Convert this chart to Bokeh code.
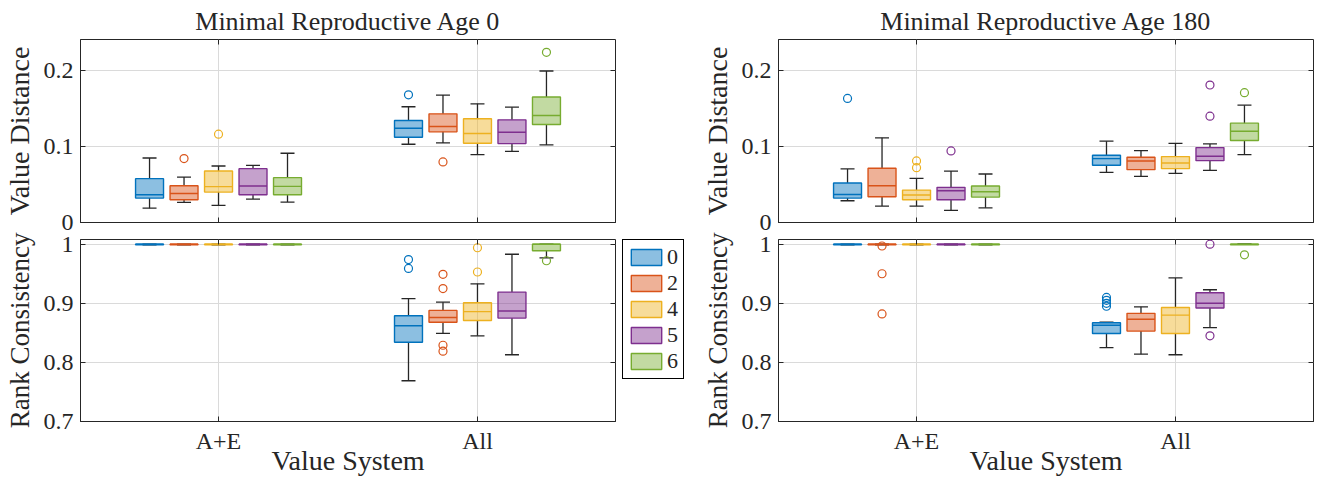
from bokeh.plotting import figure
from bokeh.layouts import row, column
from bokeh.models import Range1d, FixedTicker, LinearAxis, Legend, LegendItem, ColumnDataSource
from bokeh.embed import file_html
from bokeh.resources import INLINE

CATEGORIES = ["A+E", "All"]
GROUPS = ["0", "2", "4", "5", "6"]
COLORS = ["#0072BD", "#D95319", "#EDB120", "#7E2F8E", "#77AC30"]
TITLES = ["Minimal Reproductive Age 0", "Minimal Reproductive Age 180"]
YLABELS = ["Value Distance", "Rank Consistency"]
XLABEL = "Value System"
VD_TICKS = [0, 0.1, 0.2]
RC_TICKS = [0.7, 0.8, 0.9, 1.0]

# ---- Age 0, Value Distance: [A+E groups], [All groups]
VD0_LO = [[0.0188, 0.0263, 0.0224, 0.0307, 0.0268], [0.1026, 0.1044, 0.0890, 0.0934, 0.1018]]
VD0_Q1 = [[0.0320, 0.0298, 0.0399, 0.0364, 0.0364], [0.1118, 0.1189, 0.1039, 0.1035, 0.1285]]
VD0_MED = [[0.0364, 0.0381, 0.0470, 0.0478, 0.0474], [0.1237, 0.1259, 0.1167, 0.1184, 0.1404]]
VD0_Q3 = [[0.0575, 0.0482, 0.0675, 0.0706, 0.0588], [0.1338, 0.1425, 0.1360, 0.1346, 0.1645]]
VD0_HI = [[0.0846, 0.0596, 0.0741, 0.0750, 0.0908], [0.1518, 0.1671, 0.1557, 0.1513, 0.1987]]
VD0_OUT = [(0, 1, 0.0838), (0, 2, 0.1158), (1, 0, 0.1675), (1, 1, 0.0794), (1, 4, 0.2232)]

# ---- Age 0, Rank Consistency
RC0_LO = [[0.999, 0.999, 0.999, 0.999, 0.999], [0.769, 0.849, 0.845, 0.813, 0.977]]
RC0_Q1 = [[0.999, 0.999, 0.999, 0.999, 0.999], [0.834, 0.868, 0.871, 0.875, 0.989]]
RC0_MED = [[1.0, 1.0, 1.0, 1.0, 1.0], [0.862, 0.876, 0.886, 0.887, 1.0]]
RC0_Q3 = [[1.0, 1.0, 1.0, 1.0, 1.0], [0.879, 0.888, 0.901, 0.919, 1.0]]
RC0_HI = [[1.0, 1.0, 1.0, 1.0, 1.0], [0.908, 0.902, 0.933, 0.983, 1.0]]
RC0_OUT = [(1, 0, 0.974), (1, 0, 0.959), (1, 1, 0.949), (1, 1, 0.925), (1, 1, 0.829),
           (1, 1, 0.819), (1, 2, 0.994), (1, 2, 0.953), (1, 4, 0.972)]

# ---- Age 180, Value Distance
VD180_LO = [[0.0285, 0.0215, 0.0215, 0.0158, 0.0193], [0.0658, 0.0605, 0.0645, 0.0684, 0.0890]]
VD180_Q1 = [[0.0320, 0.0338, 0.0298, 0.0298, 0.0333], [0.0750, 0.0693, 0.0706, 0.0811, 0.1075]]
VD180_MED = [[0.0368, 0.0482, 0.0360, 0.0417, 0.0404], [0.0838, 0.0807, 0.0781, 0.0868, 0.1197]]
VD180_Q3 = [[0.0518, 0.0711, 0.0425, 0.0461, 0.0478], [0.0882, 0.0855, 0.0864, 0.0982, 0.1303]]
VD180_HI = [[0.0702, 0.1110, 0.0579, 0.0675, 0.0636], [0.1066, 0.0943, 0.1039, 0.1031, 0.1539]]
VD180_OUT = [(0, 0, 0.1627), (0, 2, 0.0807), (0, 2, 0.0719), (0, 3, 0.0939),
             (1, 3, 0.1803), (1, 3, 0.1395), (1, 4, 0.1702)]

# ---- Age 180, Rank Consistency
RC180_LO = [[0.999, 0.999, 0.999, 0.999, 0.999], [0.825, 0.814, 0.813, 0.859, 1.0]]
RC180_Q1 = [[0.999, 0.999, 0.999, 0.999, 0.999], [0.849, 0.853, 0.849, 0.892, 0.999]]
RC180_MED = [[1.0, 1.0, 1.0, 1.0, 1.0], [0.863, 0.873, 0.880, 0.900, 1.0]]
RC180_Q3 = [[1.0, 1.0, 1.0, 1.0, 1.0], [0.867, 0.883, 0.893, 0.918, 1.0]]
RC180_HI = [[1.0, 1.0, 1.0, 1.0, 1.0], [0.868, 0.894, 0.943, 0.923, 1.0]]
RC180_OUT = [(0, 1, 0.997), (0, 1, 0.950), (0, 1, 0.882),
             (1, 0, 0.910), (1, 0, 0.905), (1, 0, 0.900), (1, 0, 0.895),
             (1, 3, 1.0), (1, 3, 0.845), (1, 4, 0.982)]

FONT = "Liberation Serif"
TXT = "#262626"
GRID = "#DADADA"
OFFSET = 0.1332
BOXW = 0.108
CAPW = 0.054
FILL_ALPHA = 0.45


def tick_only_axis(ticks):
    return LinearAxis(ticker=FixedTicker(ticks=ticks), major_label_text_font_size="1px",
                      major_label_text_color=None, major_label_standoff=0,
                      major_tick_in=5, major_tick_out=0, axis_line_color=None,
                      major_tick_line_color=TXT, minor_tick_line_color=None)


def make_fig(top, title, yr, yticks, ylabel, left_col):
    p = figure(frame_width=535, frame_height=183 if top else 182,
               x_range=Range1d(0.467, 2.533), y_range=Range1d(*yr),
               output_backend="svg", toolbar_location=None,
               min_border_left=79, min_border_right=7 if left_col else 11,
               min_border_top=39 if top else 8, min_border_bottom=9 if top else 62,
               title=title)
    p.background_fill_color = "white"
    p.border_fill_color = "white"
    p.outline_line_color = TXT
    p.outline_line_width = 1
    p.outline_line_alpha = 1
    if title:
        p.title.text_font = FONT
        p.title.text_font_size = "26px"
        p.title.text_font_style = "normal"
        p.title.text_color = TXT
        p.title.align = "center"
        p.title.standoff = 8
    xa = p.xaxis[0]
    xa.ticker = FixedTicker(ticks=[1, 2])
    xa.major_label_overrides = {1: CATEGORIES[0], 2: CATEGORIES[1]}
    xa.major_tick_in = 5
    xa.major_tick_out = 0
    xa.minor_tick_line_color = None
    xa.axis_line_color = TXT
    xa.major_tick_line_color = TXT
    if top:
        xa.major_label_text_font_size = "1px"
        xa.major_label_text_color = None
        xa.major_label_standoff = 0
    else:
        xa.major_label_text_font = FONT
        xa.major_label_text_font_size = "24px"
        xa.major_label_text_color = TXT
        xa.major_label_standoff = 6
        xa.axis_label = XLABEL
        xa.axis_label_text_font = FONT
        xa.axis_label_text_font_size = "28px"
        xa.axis_label_text_font_style = "normal"
        xa.axis_label_text_color = TXT
        xa.axis_label_standoff = -12
    ya = p.yaxis[0]
    ya.ticker = FixedTicker(ticks=yticks)
    ya.major_label_overrides = {0: "0", 1: "1"}
    ya.major_tick_in = 5
    ya.major_tick_out = 0
    ya.minor_tick_line_color = None
    ya.axis_line_color = TXT
    ya.major_tick_line_color = TXT
    ya.major_label_text_font = FONT
    ya.major_label_text_font_size = "24px"
    ya.major_label_text_color = TXT
    ya.major_label_standoff = 7
    ya.axis_label = ylabel
    ya.axis_label_text_font = FONT
    ya.axis_label_text_font_size = "28px" if top else "27px"
    ya.axis_label_text_font_style = "normal"
    ya.axis_label_text_color = TXT
    ya.axis_label_standoff = 6
    p.add_layout(tick_only_axis(yticks), "right")
    p.add_layout(tick_only_axis([1, 2]), "above")
    p.xgrid.grid_line_color = GRID
    p.ygrid.grid_line_color = GRID
    p.xgrid.grid_line_width = 1
    p.ygrid.grid_line_width = 1
    return p


def box_source(lo, q1, med, q3, hi, g):
    xs = [c + 1 + (g - 2) * OFFSET for c in range(len(CATEGORIES))]
    return ColumnDataSource(dict(
        x=xs,
        bl=[x - BOXW / 2 for x in xs], br=[x + BOXW / 2 for x in xs],
        cl=[x - CAPW / 2 for x in xs], cr=[x + CAPW / 2 for x in xs],
        lo=[lo[c][g] for c in range(2)], q1=[q1[c][g] for c in range(2)],
        med=[med[c][g] for c in range(2)], q3=[q3[c][g] for c in range(2)],
        hi=[hi[c][g] for c in range(2)]))


def draw_boxes(p, lo, q1, med, q3, hi, out):
    for g in range(len(GROUPS)):
        src = box_source(lo, q1, med, q3, hi, g)
        p.segment(x0="x", y0="lo", x1="x", y1="q1", source=src, line_color=TXT, line_width=1.3)
        p.segment(x0="x", y0="q3", x1="x", y1="hi", source=src, line_color=TXT, line_width=1.3)
        p.segment(x0="cl", y0="lo", x1="cr", y1="lo", source=src, line_color=TXT, line_width=1.3)
        p.segment(x0="cl", y0="hi", x1="cr", y1="hi", source=src, line_color=TXT, line_width=1.3)
        p.quad(left="bl", right="br", bottom="q1", top="q3", source=src,
               fill_color=COLORS[g], fill_alpha=FILL_ALPHA, line_color=COLORS[g], line_width=1.4)
        p.segment(x0="bl", y0="med", x1="br", y1="med", source=src, line_color=COLORS[g], line_width=1.4)
        ox = [c + 1 + (g - 2) * OFFSET for (c, gg, v) in out if gg == g]
        oy = [v for (c, gg, v) in out if gg == g]
        if ox:
            p.scatter(ox, oy, marker="circle", size=8, fill_color=None,
                      line_color=COLORS[g], line_width=1.2)


p_tl = make_fig(True, TITLES[0], (0, 0.24), VD_TICKS, YLABELS[0], True)
draw_boxes(p_tl, VD0_LO, VD0_Q1, VD0_MED, VD0_Q3, VD0_HI, VD0_OUT)
p_bl = make_fig(False, None, (0.7, 1.008), RC_TICKS, YLABELS[1], True)
draw_boxes(p_bl, RC0_LO, RC0_Q1, RC0_MED, RC0_Q3, RC0_HI, RC0_OUT)
p_tr = make_fig(True, TITLES[1], (0, 0.24), VD_TICKS, YLABELS[0], False)
draw_boxes(p_tr, VD180_LO, VD180_Q1, VD180_MED, VD180_Q3, VD180_HI, VD180_OUT)
p_br = make_fig(False, None, (0.7, 1.008), RC_TICKS, YLABELS[1], False)
draw_boxes(p_br, RC180_LO, RC180_Q1, RC180_MED, RC180_Q3, RC180_HI, RC180_OUT)

# legend panel between the two columns (its box glyphs sit outside its own view range)
p_leg = figure(width=76, height=483, x_range=Range1d(0, 1), y_range=Range1d(-1, -0.5),
               x_axis_type=None, y_axis_type=None, output_backend="svg", toolbar_location=None,
               min_border_left=0, min_border_right=0, min_border_top=239, min_border_bottom=0)
p_leg.outline_line_color = None
p_leg.grid.visible = False
leg_renderers = []
for g in range(len(GROUPS)):
    src = box_source(RC0_LO, RC0_Q1, RC0_MED, RC0_Q3, RC0_HI, g)
    r = p_leg.quad(left="bl", right="br", bottom="q1", top="q3", source=src,
                   fill_color=COLORS[g], fill_alpha=FILL_ALPHA, line_color=COLORS[g], line_width=1.4)
    leg_renderers.append(r)
legend = Legend(items=[LegendItem(label=GROUPS[g], renderers=[leg_renderers[g]], index=0)
                       for g in range(len(GROUPS))],
                location="top_left", orientation="vertical",
                label_text_font=FONT, label_text_font_size="22px", label_text_color=TXT,
                glyph_width=38, glyph_height=20, label_height=24, label_width=12,
                label_standoff=2, spacing=0, padding=4, margin=0,
                border_line_color="#000000", border_line_width=1, border_line_alpha=1,
                background_fill_color="white", background_fill_alpha=1)
p_leg.add_layout(legend, "center")

layout = row(column(p_tl, p_bl), p_leg, column(p_tr, p_br))
open("out.html", "w").write(file_html(layout, INLINE))
